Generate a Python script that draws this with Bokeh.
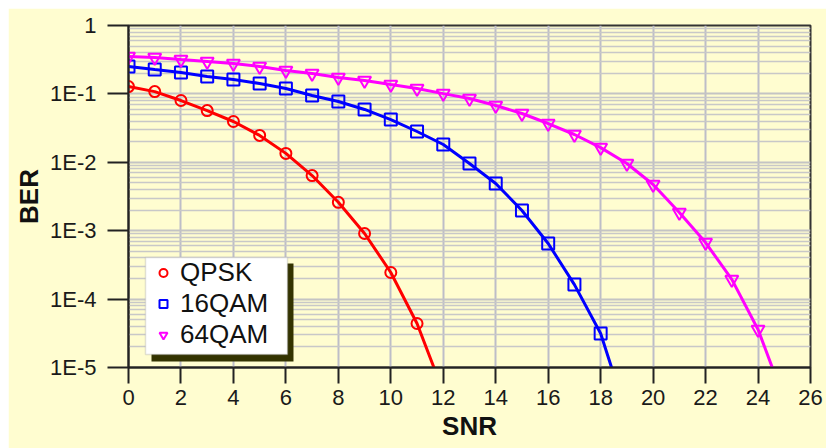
from bokeh.plotting import figure
from bokeh.models import FixedTicker, Legend, LegendItem, BoxAnnotation
from bokeh.embed import file_html
from bokeh.resources import INLINE

# ---------------- data ----------------
snr_qpsk = [0, 1, 2, 3, 4, 5, 6, 7, 8, 9, 10, 11]
ber_qpsk = [0.128, 0.108, 0.080, 0.057, 0.0395, 0.0247, 0.0135, 0.0064,
            0.0026, 0.00091, 0.000245, 0.000044]
snr_qpsk_tail = 12
ber_qpsk_tail = 4.4e-6

snr_16qam = [0, 1, 2, 3, 4, 5, 6, 7, 8, 9, 10, 11, 12, 13, 14, 15, 16, 17, 18]
ber_16qam = [0.252, 0.227, 0.205, 0.180, 0.162, 0.142, 0.120, 0.0948, 0.0775,
             0.0592, 0.0422, 0.0282, 0.0182, 0.0096, 0.0049, 0.00197, 0.00065,
             0.000163, 0.0000314]
snr_16qam_tail = 19
ber_16qam_tail = 2.0e-6

snr_64qam = [0, 1, 2, 3, 4, 5, 6, 7, 8, 9, 10, 11, 12, 13, 14, 15, 16, 17, 18,
             19, 20, 21, 22, 23, 24]
ber_64qam = [0.352, 0.340, 0.318, 0.298, 0.278, 0.252, 0.220, 0.199, 0.174,
             0.157, 0.137, 0.120, 0.101, 0.0857, 0.0677, 0.0517, 0.0369, 0.0255,
             0.0164, 0.0096, 0.00473, 0.00185, 0.00067, 0.000194, 0.000036]
snr_64qam_tail = 25
ber_64qam_tail = 3.4e-6

series_names = ["QPSK", "16QAM", "64QAM"]
x_ticks = [0, 2, 4, 6, 8, 10, 12, 14, 16, 18, 20, 22, 24, 26]
y_ticks = [1e-5, 1e-4, 1e-3, 1e-2, 1e-1, 1]
y_tick_labels = ["1E-5", "1E-4", "1E-3", "1E-2", "1E-1", "1"]

# ---------------- styling ----------------
BG = "#FFFDD0"
FONT = "Liberation Sans"
colors = ["#FF0000", "#0000FF", "#FF00FF"]
markers = ["circle", "square", "inverted_triangle"]
msizes = [11, 12, 13]

p = figure(width=818, height=440, margin=(8, 0, 0, 8),
           x_range=(0, 26), y_range=(1e-5, 1),
           y_axis_type="log", output_backend="svg", toolbar_location=None,
           min_border_left=120, min_border_right=16, min_border_top=17,
           min_border_bottom=81, background_fill_color=BG,
           border_fill_color=BG)

p.outline_line_color = "#333333"
p.outline_line_width = 2

# grid
p.xgrid.ticker = FixedTicker(ticks=x_ticks)
p.xgrid.grid_line_color = "#BDBDC8"
p.xgrid.grid_line_width = 2
minor = [m * d for d in y_ticks[:-1] for m in range(2, 10)]
p.ygrid.ticker = FixedTicker(ticks=y_ticks, minor_ticks=minor)
p.ygrid.grid_line_color = "#C4C4C4"
p.ygrid.grid_line_width = 2
p.ygrid.minor_grid_line_color = "#C8C8C8"
p.ygrid.minor_grid_line_width = 1.5

# axes
p.xaxis.ticker = FixedTicker(ticks=x_ticks)
p.yaxis.ticker = FixedTicker(ticks=y_ticks)
p.yaxis.major_label_overrides = {v: s for v, s in zip(y_ticks, y_tick_labels)}
for ax in (p.xaxis[0], p.yaxis[0]):
    ax.axis_line_color = "#222222"
    ax.axis_line_width = 2
    ax.major_tick_line_color = "#222222"
    ax.major_tick_line_width = 2
    ax.major_tick_in = 0
    ax.minor_tick_line_color = None
    ax.major_label_text_font = FONT
    ax.major_label_text_font_size = "22px"
    ax.major_label_text_color = "#1A1A1A"
    ax.axis_label_text_font = FONT
    ax.axis_label_text_font_size = "26px"
    ax.axis_label_text_font_style = "bold"
    ax.axis_label_text_color = "#111111"

p.xaxis.axis_label = "SNR"
p.xaxis.major_tick_out = 16
p.xaxis.major_label_standoff = 6
p.xaxis.axis_label_standoff = 3
p.yaxis.axis_label = "BER"
p.yaxis.major_tick_out = 21
p.yaxis.major_label_standoff = 11
p.yaxis.axis_label_standoff = 3

# curves
xs_all = [snr_qpsk, snr_16qam, snr_64qam]
ys_all = [ber_qpsk, ber_16qam, ber_64qam]
tails = [(snr_qpsk_tail, ber_qpsk_tail), (snr_16qam_tail, ber_16qam_tail),
         (snr_64qam_tail, ber_64qam_tail)]
legend_renderers = []
for xs, ys, (tx, ty), c, mk, ms in zip(xs_all, ys_all, tails, colors, markers, msizes):
    p.line(xs + [tx], ys + [ty], line_color=c, line_width=3)
    p.scatter(xs, ys, marker=mk, size=ms, line_color=c, line_width=2,
              fill_color=None)
    # small-marker proxy used only for the legend swatch
    proxy = p.scatter(xs[:1], ys[:1], marker=mk, size=8, line_color=c,
                      line_width=2, fill_color=None, visible=False)
    legend_renderers.append(proxy)

# legend with drop shadow
shadow = BoxAnnotation(left=0.877, right=6.29, top=3.31e-4, bottom=1.22e-5,
                       fill_color="#333300", fill_alpha=1, line_color=None)
box = BoxAnnotation(left=0.648, right=6.062, top=4.06e-4, bottom=1.55e-5,
                    fill_color="white", fill_alpha=1, line_color="#9A9A9A",
                    line_width=1.5)
p.add_layout(shadow)
p.add_layout(box)

legend = Legend(items=[LegendItem(label=n, renderers=[r])
                       for n, r in zip(series_names, legend_renderers)],
                location=(25, 17), padding=0, margin=0, spacing=0,
                glyph_width=20, glyph_height=31, label_height=31,
                label_standoff=7, label_text_font=FONT,
                label_text_font_size="26px", label_text_color="#111111",
                background_fill_alpha=0, border_line_color=None)
p.add_layout(legend)

open("out.html", "w").write(file_html(p, INLINE))
